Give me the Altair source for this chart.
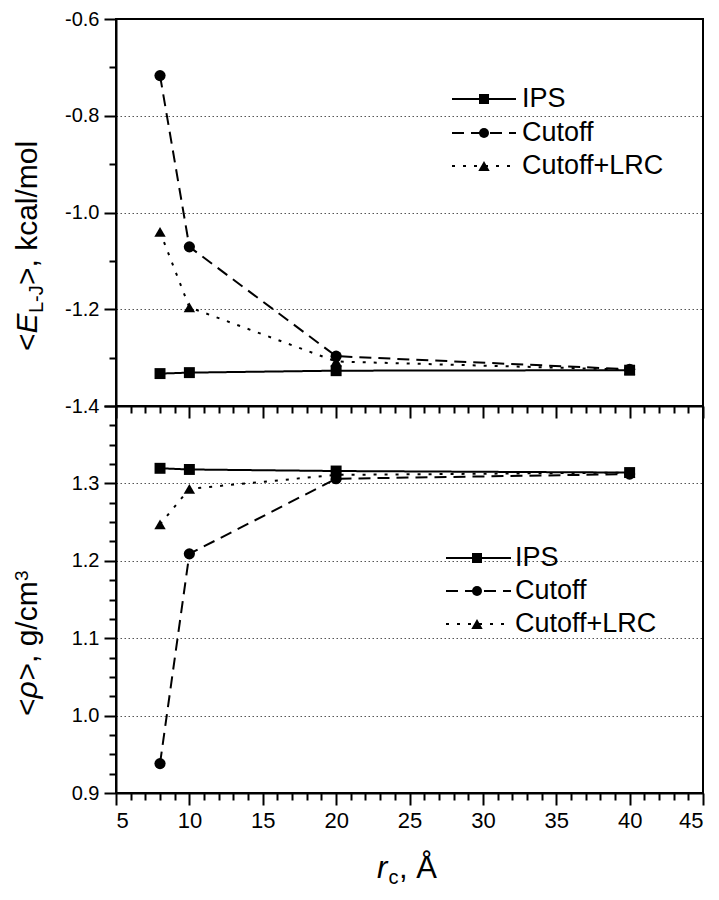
import altair as alt
import pandas as pd

# ---------------- data ----------------
rc = [8, 10, 20, 40]
series = ["IPS", "Cutoff", "Cutoff+LRC"]

e_ips = [-1.333, -1.331, -1.327, -1.326]
e_cut = [-0.717, -1.071, -1.297, -1.324]
e_lrc = [-1.040, -1.196, -1.308, -1.325]

rho_ips = [1.3195, 1.318, 1.316, 1.314]
rho_cut = [0.938, 1.209, 1.306, 1.312]
rho_lrc = [1.247, 1.293, 1.311, 1.314]

x_ticks = list(range(5, 46))
e_ticks = [-1.4, -1.3, -1.2, -1.1, -1.0, -0.9, -0.8, -0.7, -0.6]
rho_ticks = [round(0.9 + 0.025 * i, 3) for i in range(21)]

FONT = "Liberation Sans"
W = 587
H = 387


def long_df(a, b, c):
    rows = []
    for name, vals in zip(series, [a, b, c]):
        for xv, yv in zip(rc, vals):
            rows.append({"rc": xv, "val": yv, "series": name})
    return pd.DataFrame(rows)


df_e = long_df(e_ips, e_cut, e_lrc)
df_rho = long_df(rho_ips, rho_cut, rho_lrc)

dash_list = [[1, 0], [12, 7], [3, 8]]
shape_list = ["square", "circle", "triangle-up"]
dash_scale = alt.Scale(domain=series, range=dash_list)
shape_scale = alt.Scale(domain=series, range=shape_list)
size_scale = alt.Scale(domain=series, range=[120, 130, 170])

x_major = "datum.value % 5 === 0"


def x_axis(show_labels):
    kw = dict(
        values=x_ticks,
        tickSize={"condition": {"test": x_major, "value": 12}, "value": 7},
        grid=False,
        title=None,
        labelFontSize=22,
        labelFont=FONT,
        labelColor="black",
        labelPadding=5,
    )
    if show_labels:
        kw["labelExpr"] = f"{x_major} ? datum.label : ''"
    else:
        kw["labels"] = False
    return alt.Axis(**kw)


def y_axis(values, major, lo, hi, label_max):
    return alt.Axis(
        values=values,
        tickSize={"condition": {"test": major, "value": 12}, "value": 7},
        grid=True,
        gridOpacity={
            "condition": {"test": f"({major}) && datum.value > {lo} && datum.value < {hi}", "value": 1},
            "value": 0,
        },
        gridDash=[1.5, 2.5],
        gridColor="#555555",
        gridWidth=1,
        labelExpr=f"({major}) && datum.value < {label_max} ? (datum.value < 0 ? '-' : '') + format(abs(datum.value), '.1f') : ''",
        labelFontSize=20,
        labelFont=FONT,
        labelColor="black",
        labelPadding=5,
        title=None,
    )


def legend_layers(rows_y, x1, x2, xm, xt):
    one = pd.DataFrame({"k": [0]})
    layers = []
    for i, name in enumerate(series):
        y = rows_y[i]
        layers.append(
            alt.Chart(one).mark_rule(color="black", strokeWidth=2, strokeDash=dash_list[i]).encode(
                x=alt.value(x1), x2=alt.value(x2), y=alt.value(y)
            )
        )
        layers.append(
            alt.Chart(one).mark_point(shape=shape_list[i], filled=True, color="black", opacity=1,
                                      size=[100, 100, 130][i]).encode(
                x=alt.value(xm), y=alt.value(y)
            )
        )
        layers.append(
            alt.Chart(one).mark_text(text=name, align="left", baseline="middle", fontSize=27, font=FONT, color="black").encode(
                x=alt.value(xt), y=alt.value(y)
            )
        )
    return layers


def text_pieces(pieces, x, y, angle):
    one = pd.DataFrame({"k": [0]})
    layers = []
    for txt, dx, dy, size, style in pieces:
        layers.append(
            alt.Chart(one).mark_text(
                text=txt, align="left", baseline="alphabetic", fontSize=size, font=FONT,
                fontStyle=style, color="black", angle=angle, dx=dx, dy=dy,
            ).encode(x=alt.value(x), y=alt.value(y))
        )
    return layers


def panel(df, ydomain, yaxis, xaxis_labels, extra):
    base = alt.Chart(df)
    xenc = alt.X("rc:Q", scale=alt.Scale(domain=[5, 45], nice=False, zero=False), axis=x_axis(xaxis_labels))
    yenc = alt.Y("val:Q", scale=alt.Scale(domain=ydomain, nice=False, zero=False), axis=yaxis)
    lines = base.mark_line(color="black", strokeWidth=2).encode(
        x=xenc, y=yenc,
        strokeDash=alt.StrokeDash("series:N", scale=dash_scale, legend=None),
    )
    pts = base.mark_point(filled=True, color="black", opacity=1).encode(
        x=xenc, y=yenc,
        shape=alt.Shape("series:N", scale=shape_scale, legend=None),
        size=alt.Size("series:N", scale=size_scale, legend=None),
    )
    return alt.layer(lines, pts, *extra).properties(width=W, height=H)


e_major = "abs(round(datum.value*10)) % 2 === 0"
rho_major = "round(datum.value*40) % 4 === 0"

TX = -79
top_extra = legend_layers([80, 114, 147], 336, 400, 368, 406) + text_pieces(
    [("<", 0, 0, 30, "normal"), ("E", 17.5, 0, 30, "italic"),
     ("L-J", 38, 6, 20, "normal"), (">, kcal/mol", 66, 0, 30, "normal")],
    TX, 332, 270,
)
bot_extra = legend_layers([152, 185, 218], 330, 395, 361, 399) + text_pieces(
    [("<", 0, 0, 30, "normal"), ("ρ", 17.5, 0, 30, "italic"),
     (">, g/cm", 35.5, 0, 30, "normal"), ("3", 135, -9, 19, "normal")],
    TX, 310, 270,
) + text_pieces(
    [("r", 0, 0, 31, "italic"), ("c", 11.5, 6, 20, "normal"), (", Å", 22, 0, 31, "normal")],
    261, H + 85, 0,
)

top = panel(df_e, [-1.4, -0.6], y_axis(e_ticks, e_major, -1.35, -0.65, 0), False, top_extra)
bottom = panel(df_rho, [0.9, 1.4], y_axis(rho_ticks, rho_major, 0.95, 1.35, 1.35), True, bot_extra)

chart = alt.vconcat(top, bottom, spacing=0, bounds="flush").properties(
    padding={"left": 4, "top": 0, "right": 0, "bottom": 0}
).configure_view(
    stroke="black", strokeWidth=2
).configure_axis(
    domainColor="black", domainWidth=2, tickColor="black", tickWidth=2,
)

chart.save("out.html", embed_options={"renderer": "svg", "actions": False})
